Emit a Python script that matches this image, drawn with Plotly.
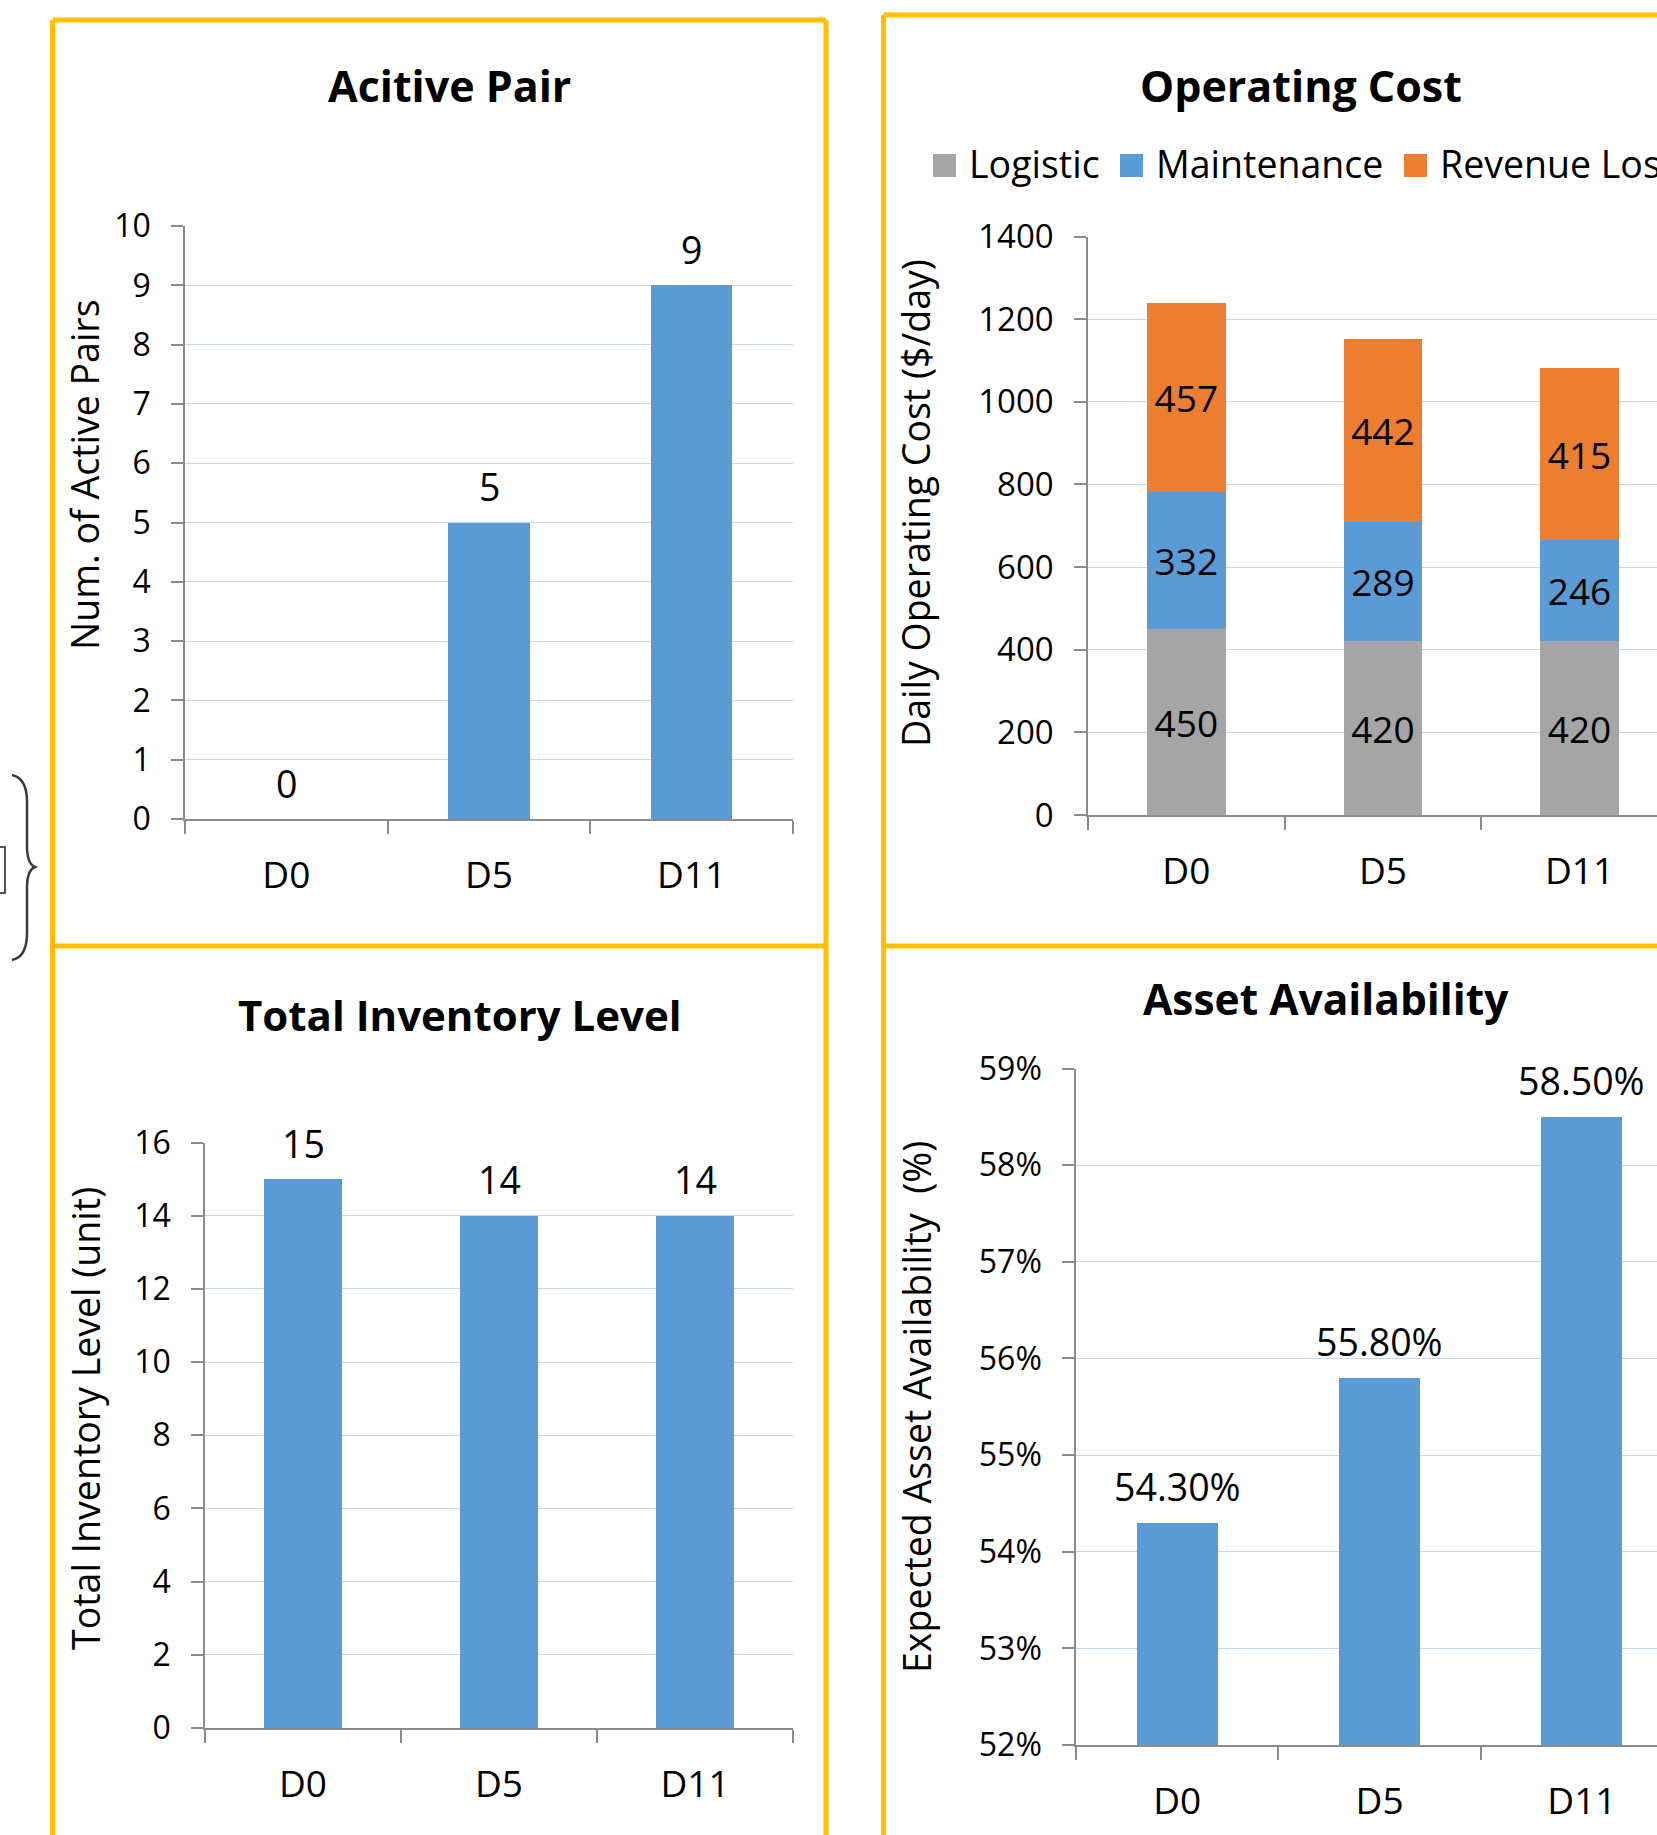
import plotly.graph_objects as go

W, H = 1657, 1835
FONT = "Open Sans"

# ---------------- data ----------------
categories = ["D0", "D5", "D11"]

active_pairs = [0, 5, 9]

cost_series = ["Logistic", "Maintenance", "Revenue Loss"]
logistic_cost = [450, 420, 420]
maintenance_cost = [332, 289, 246]
revenue_loss_cost = [457, 442, 415]

inventory_level = [15, 14, 14]

asset_availability = [54.3, 55.8, 58.5]

# ---------------- styles ----------------
BLUE = "#5B9BD5"
GREY = "#A5A5A5"
ORANGE = "#ED7D31"
GRID = "#C2DAF1"
AXIS = "#8C8C8C"
GOLD = "#FFC000"


def px(x):
    return x / W


def py(y):
    return 1 - y / H


fig = go.Figure()

# Active pair (xaxis / yaxis)
fig.add_trace(go.Bar(x=categories, y=active_pairs, marker_color=BLUE, width=0.4,
                     xaxis="x", yaxis="y", showlegend=False))

# Operating cost (x2 / y2)
cost_values = [logistic_cost, maintenance_cost, revenue_loss_cost]
cost_colors = [GREY, BLUE, ORANGE]
for name, vals, col in zip(cost_series, cost_values, cost_colors):
    fig.add_trace(go.Bar(x=categories, y=vals, name=name, marker_color=col, width=0.4,
                         text=[str(v) for v in vals], textposition="inside",
                         insidetextanchor="middle", textangle=0,
                         textfont=dict(family=FONT, size=37, color="black"),
                         xaxis="x2", yaxis="y2", showlegend=False))

# Inventory (x3 / y3)
fig.add_trace(go.Bar(x=categories, y=inventory_level, marker_color=BLUE, width=0.4,
                     xaxis="x3", yaxis="y3", showlegend=False))

# Availability (x4 / y4)
fig.add_trace(go.Bar(x=categories, y=asset_availability, marker_color=BLUE, width=0.4,
                     xaxis="x4", yaxis="y4", showlegend=False))


def xaxis_cfg(x0, x1, rng=None):
    d = dict(domain=[px(x0), px(x1)], type="category", showgrid=False, zeroline=False,
             showline=True, linecolor=AXIS, linewidth=1.5, automargin=False,
             ticks="outside", tickson="boundaries", ticklen=13, tickcolor=AXIS, tickwidth=1.5,
             tickfont=dict(family=FONT, size=37, color="black"), ticklabelstandoff=23,
             fixedrange=True)
    if rng is not None:
        d["range"] = rng
    return d


def yaxis_cfg(y0, y1, rng, dtick, anchor, size=32, suffix=""):
    return dict(domain=[py(y1), py(y0)], range=rng, dtick=dtick, tick0=rng[0],
                showgrid=True, gridcolor=GRID, gridwidth=1.3, zeroline=False,
                showline=True, linecolor=AXIS, linewidth=1.5, automargin=False,
                ticks="outside", ticklen=12, tickcolor=AXIS, tickwidth=1.5,
                tickfont=dict(family=FONT, size=size, color="black"), ticklabelstandoff=14,
                ticksuffix=suffix, anchor=anchor, fixedrange=True)


layout = dict(
    template="none",
    width=W, height=H, margin=dict(l=0, r=0, t=0, b=0, pad=0, autoexpand=False),
    paper_bgcolor="white", plot_bgcolor="white",
    barmode="stack", showlegend=False,
    font=dict(family=FONT, color="black"),
    xaxis=dict(**xaxis_cfg(185, 793), anchor="y"),
    yaxis=yaxis_cfg(226, 819, [0, 10], 1, "x"),
    xaxis2=dict(**xaxis_cfg(1088, W, [-0.5, 2.394]), anchor="y2"),
    yaxis2=yaxis_cfg(236.5, 815, [0, 1400], 200, "x2", size=33),
    xaxis3=dict(**xaxis_cfg(205, 793), anchor="y3"),
    yaxis3=yaxis_cfg(1142.5, 1728, [0, 16], 2, "x3"),
    xaxis4=dict(**xaxis_cfg(1076, W, [-0.5, 2.371]), anchor="y4"),
    yaxis4=yaxis_cfg(1068.5, 1745, [52, 59], 1, "x4", size=32, suffix="%"),
)
fig.update_layout(**layout)

ann = []

# Titles
titles = [("Acitive Pair", 449, 85.5, 43), ("Operating Cost", 1301, 85.5, 43),
          ("Total Inventory Level", 460, 1014.5, 42), ("Asset Availability", 1326, 998, 42.5)]
for t, x, y, s in titles:
    ann.append(dict(text="<b>%s</b>" % t, x=px(x), y=py(y), xref="paper", yref="paper",
                    xanchor="center", yanchor="middle", showarrow=False,
                    font=dict(family=FONT, size=s, color="black")))

# Y-axis titles
ytitles = [("Num. of Active Pairs", 85, 475), ("Daily Operating Cost ($/day)", 916, 503),
           ("Total Inventory Level (unit)", 85, 1419), ("Expected Asset Availability  (%)", 916, 1407)]
for t, x, y in ytitles:
    ann.append(dict(text=t.replace("  ", "\u00a0 "), x=px(x), y=py(y), xref="paper", yref="paper",
                    xanchor="center", yanchor="middle", showarrow=False, textangle=-90,
                    font=dict(family=FONT, size=37.5, color="black")))

# Data labels above bars
for xa, ya, vals, fmt in [("x", "y", active_pairs, "{:d}"),
                          ("x3", "y3", inventory_level, "{:d}"),
                          ("x4", "y4", asset_availability, "{:.2f}%")]:
    for c, v in zip(categories, vals):
        ann.append(dict(text=fmt.format(v), x=c, y=v, xref=xa, yref=ya,
                        xanchor="center", yanchor="middle", yshift=36, showarrow=False,
                        font=dict(family=FONT, size=37.5, color="black")))

# Legend for operating cost (manual, clipped by the page edge like the reference)
legend_x = [933, 1120, 1404]
shapes = []
for name, col, lx in zip(cost_series, cost_colors, legend_x):
    shapes.append(dict(type="rect", xref="paper", yref="paper",
                       x0=px(lx), x1=px(lx + 23), y0=py(177), y1=py(154),
                       fillcolor=col, line=dict(width=0)))
    ann.append(dict(text=name, x=px(lx + 34), y=py(164), xref="paper", yref="paper",
                    xanchor="left", yanchor="middle", showarrow=False,
                    font=dict(family=FONT, size=37.5, color="black")))

# Panel borders
border_lines = [
    (52.5, 20, 826, 20), (52.5, 20, 52.5, H), (826, 20, 826, H), (52.5, 946, 826, 946),
    (883.5, 15, W + 5, 15), (883.5, 15, 883.5, H), (883.5, 946, W + 5, 946),
]
for x0, y0, x1, y1 in border_lines:
    shapes.append(dict(type="line", xref="paper", yref="paper",
                       x0=px(x0), y0=py(y0), x1=px(x1), y1=py(y1),
                       line=dict(color=GOLD, width=5)))

# Brace and partial box at the left edge (cropped context from source figure)
P = [(12, 775), (22, 777), (27, 786), (27, 802), (27, 846), (27, 859), (30, 865), (35, 867),
     (30, 869), (27, 875), (27, 888), (27, 933), (27, 949), (22, 958), (12, 960)]
path = "M %f,%f C %f,%f %f,%f %f,%f L %f,%f C %f,%f %f,%f %f,%f C %f,%f %f,%f %f,%f L %f,%f C %f,%f %f,%f %f,%f" % tuple(
    v for (x, y) in P for v in (px(x), py(y)))
shapes.append(dict(type="path", xref="paper", yref="paper", path=path,
                   line=dict(color="#3a3a3a", width=2.5)))
shapes.append(dict(type="rect", xref="paper", yref="paper",
                   x0=px(-20), x1=px(5), y0=py(893), y1=py(847),
                   line=dict(color="#555555", width=2)))

fig.update_layout(annotations=ann, shapes=shapes)
fig.write_html("out.html")
